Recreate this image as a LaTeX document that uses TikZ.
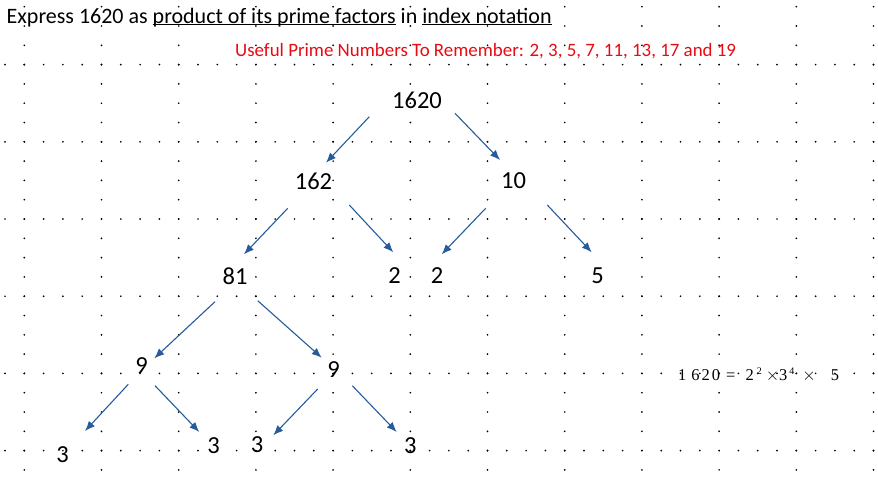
\documentclass[tikz,border=0pt]{standalone}
\usepackage{fontspec}
\setmainfont{Carlito}
\newfontfamily\timesf{Liberation Serif}
\usetikzlibrary{arrows.meta}
\definecolor{arrowblue}{RGB}{38,92,156}
\definecolor{notered}{RGB}{230,12,20}
\newcommand\myul[1]{\setbox0\hbox{#1}\rlap{\rule[-2pt]{\wd0}{1.1pt}}\box0\relax}
\tikzset{
  num/.style={inner sep=0pt, font=\fontsize{24.5}{28}\selectfont},
  gdot/.style={fill=black},
  fact/.style={draw=arrowblue, line width=1.1pt, -{Latex[length=10pt,width=8pt]}}
}
\begin{document}
\begin{tikzpicture}[x=1pt,y=-1pt]
\useasboundingbox (0,0) rectangle (878,482);
\fill[white] (0,0) rectangle (878,482);
% dotted grid
\foreach \k in {0,...,11}{
  \foreach \j in {0,...,24}{
    \fill[gdot] ({24.3+77.2*\k},{6.7+19.3*\j}) circle (0.95);
  }
}
\foreach \k in {0,...,5}{
  \foreach \i in {0,...,45}{
    \fill[gdot] ({5+19.3*\i},{64.6+77.2*\k}) circle (0.95);
  }
}
% headings
\node[anchor=base west, inner sep=0pt, font=\fontsize{22}{26}\selectfont] (title) at (6.5,23.3)
  {Express 1620 as \myul{product of its prime factors} in \myul{index notation}};
\node[anchor=base west, inner sep=0pt, text=notered, font=\fontsize{18.9}{22}\selectfont] (hint) at (235,56.7)
  {Useful Prime Numbers To Remember: 2, 3, 5, 7, 11, 13, 17 and 19};
% tree numbers
\node[num] (n1620) at (417,100.5) {1620};
\node[num] (n162) at (313.5,181) {162};
\node[num] (n10) at (513.5,181) {10};
\node[num] (n81) at (235,276) {81};
\node[num] (n2a) at (394.5,276) {2};
\node[num] (n2b) at (437,276) {2};
\node[num] (n5) at (597.5,276) {5};
\node[num] (n9a) at (141.5,366) {9};
\node[num] (n9b) at (333.5,370) {9};
\node[num] (n3a) at (62.7,454.7) {3};
\node[num] (n3b) at (213.7,445.5) {3};
\node[num] (n3c) at (257,444.7) {3};
\node[num] (n3d) at (410.3,445.5) {3};
% arrow ends
\coordinate (s1) at (369.3,116.7); \coordinate (e1) at (326,162.7);
\coordinate (s2) at (455,113.3);   \coordinate (e2) at (500,160);
\coordinate (s3) at (287.7,208.3); \coordinate (e3) at (244,254.3);
\coordinate (s4) at (349.3,205);   \coordinate (e4) at (393.3,252.3);
\coordinate (s5) at (485.7,208.3); \coordinate (e5) at (441.7,254.3);
\coordinate (s6) at (547.3,205);   \coordinate (e6) at (591.7,252.3);
\coordinate (s7) at (215,301.7);   \coordinate (e7) at (154.3,358.3);
\coordinate (s8) at (257.7,300.7); \coordinate (e8) at (321.7,357.7);
\coordinate (s9) at (128.3,384.3); \coordinate (e9) at (85,431);
\coordinate (s10) at (155,385.7);  \coordinate (e10) at (199.3,432);
\coordinate (s11) at (317.7,389);  \coordinate (e11) at (273.3,435.3);
\coordinate (s12) at (352.3,385.7); \coordinate (e12) at (396.7,432);
\foreach \n in {1,...,12}{ \draw[fact] (s\n) -- (e\n); }
% result
\node[anchor=base west, inner sep=0pt, font=\timesf\fontsize{16.5}{18}\selectfont] (result) at (678,380.7)
  {1\hspace{5pt}6\hspace{2pt}2\hspace{2pt}0\hspace{6pt}=\hspace{10pt}2\hspace{3pt}\raisebox{6pt}{\fontsize{10}{11}\selectfont 2}\hspace{4pt}$\times$3\hspace{2pt}\raisebox{6pt}{\fontsize{10}{11}\selectfont 4}\hspace{8pt}$\times$\hspace{15pt}5};
\end{tikzpicture}
\end{document}
